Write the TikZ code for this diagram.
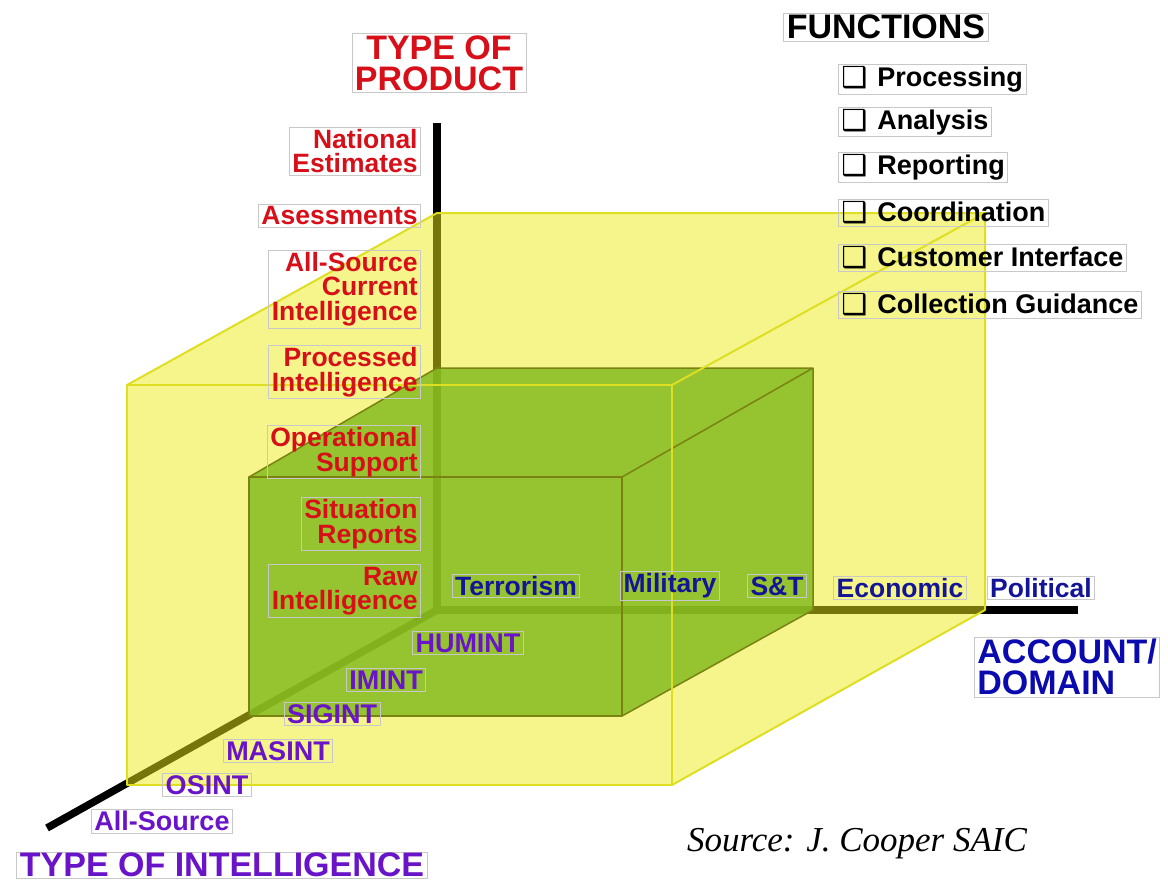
\documentclass[tikz,border=0pt]{standalone}
\usepackage{fontspec}
\setmainfont{Liberation Sans}
\newfontfamily\srcfont{Liberation Serif}
\newfontfamily\symfont{DejaVu Sans}
\definecolor{prodred}{RGB}{215,15,25}
\definecolor{acctblue}{RGB}{20,20,150}
\definecolor{titleblue}{RGB}{10,10,175}
\definecolor{intpurple}{RGB}{105,20,200}
\definecolor{yelfill}{RGB}{235,235,25}
\definecolor{yeledge}{RGB}{222,222,35}
\definecolor{grnfill}{RGB}{30,140,40}
\definecolor{grnedge}{RGB}{10,25,10}
\definecolor{boxgray}{RGB}{200,200,200}
\begin{document}
\begin{tikzpicture}[x=1pt,y=-1pt,
 lbl/.style={draw=boxgray,line width=0.8pt,inner xsep=3pt,inner ysep=2pt,font=\bfseries\fontsize{26.5}{24.5}\selectfont},
 prod/.style={lbl,text=prodred,align=right,anchor=east},
 acct/.style={lbl,text=acctblue},
 intel/.style={lbl,text=intpurple,font=\bfseries\fontsize{27}{27}\selectfont},
 ttl/.style={lbl,font=\bfseries\fontsize{34}{31}\selectfont,align=center},
 func/.style={lbl,anchor=west,text=black,font=\bfseries\fontsize{27}{27}\selectfont},
 axisline/.style={line width=7.5pt,black},
 gface/.style={fill=grnfill,fill opacity=0.85},
 gedge/.style={draw=grnedge,line width=1.5pt,line join=round},
 yface/.style={fill=yelfill,fill opacity=0.5},
 yedge/.style={draw=yeledge,line width=2pt,line join=round},
]
\useasboundingbox (0,0) rectangle (1168,884);
% axes
\coordinate (O) at (437,610);
\coordinate (Vtop) at (437,123);
\coordinate (Hend) at (1078,610);
\coordinate (Dend) at (47,828);
\draw[axisline] (Vtop) -- (O) -- (Hend);
\draw[axisline] (O) -- (Dend);
% green cube
\coordinate (g1) at (249,477);
\coordinate (g2) at (622,477);
\coordinate (g3) at (622,716);
\coordinate (g4) at (249,716);
\coordinate (g5) at (437,368);
\coordinate (g6) at (813,368);
\coordinate (g7) at (813,610);
\fill[gface] (g4) -- (g1) -- (g5) -- (g6) -- (g7) -- (g3) -- cycle;
\draw[gedge] (g1) -- (g2) -- (g3) -- (g4) -- cycle;
\draw[gedge] (g1) -- (g5) -- (g6) -- (g2);
\draw[gedge] (g6) -- (g7) -- (g3);
% yellow cube
\coordinate (y1) at (127,385);
\coordinate (y2) at (672,385);
\coordinate (y3) at (672,785);
\coordinate (y4) at (127,785);
\coordinate (y5) at (437,213);
\coordinate (y6) at (985,213);
\coordinate (y7) at (985,610);
\fill[yface] (y4) -- (y1) -- (y5) -- (y6) -- (y7) -- (y3) -- cycle;
\draw[yedge] (y1) -- (y2) -- (y3) -- (y4) -- cycle;
\draw[yedge] (y1) -- (y5) -- (y6) -- (y2);
\draw[yedge] (y6) -- (y7) -- (y3);
% product axis
\node[ttl,text=prodred] (tprod) at (439,63) {TYPE OF\\PRODUCT};
\node[prod] (natl) at (421,151) {National\\Estimates};
\node[prod] (asess) at (421,216) {Asessments};
\node[prod] (allsrc) at (421,289) {All-Source\\Current\\Intelligence};
\node[prod] (proc) at (421,372) {Processed\\Intelligence};
\node[prod] (oper) at (421,452) {Operational\\Support};
\node[prod] (sit) at (421,524) {Situation\\Reports};
\node[prod] (raw) at (421,591) {Raw\\Intelligence};
% account axis
\node[acct] (terr) at (516,586) {Terrorism};
\node[acct] (mil) at (670,586) {Military};
\node[acct] (st) at (777,586) {S\&T};
\node[acct] (econ) at (900,588) {Economic};
\node[acct] (pol) at (1041,588) {Political};
\node[ttl,text=titleblue,align=left,anchor=west] (tacct) at (974,667) {ACCOUNT/\\DOMAIN};
% intelligence axis
\node[intel] (hum) at (468,643) {HUMINT};
\node[intel] (im) at (386,680) {IMINT};
\node[intel] (sig) at (332,714) {SIGINT};
\node[intel] (mas) at (278,751) {MASINT};
\node[intel] (os) at (207,785) {OSINT};
\node[intel] (alls) at (162,821) {All-Source};
\node[ttl,text=intpurple,inner ysep=1pt] (tint) at (222,865) {TYPE OF INTELLIGENCE};
% functions
\node[ttl,text=black] (tfunc) at (886,27) {FUNCTIONS};
\newcommand{\cbx}{\raisebox{-1pt}{\symfont\fontsize{29}{29}\selectfont ❑}\hspace{10pt}}
\node[func] (f1) at (838,79) {\cbx Processing};
\node[func] (f2) at (838,122) {\cbx Analysis};
\node[func] (f3) at (838,167) {\cbx Reporting};
\node[func] (f4) at (838,213) {\cbx Coordination};
\node[func] (f5) at (838,258) {\cbx Customer Interface};
\node[func] (f6) at (838,305) {\cbx Collection Guidance};
% source
\node[anchor=base,font=\srcfont\itshape\fontsize{35}{35}\selectfont] (src) at (857,851) {Source: J. Cooper SAIC};
\end{tikzpicture}
\end{document}
